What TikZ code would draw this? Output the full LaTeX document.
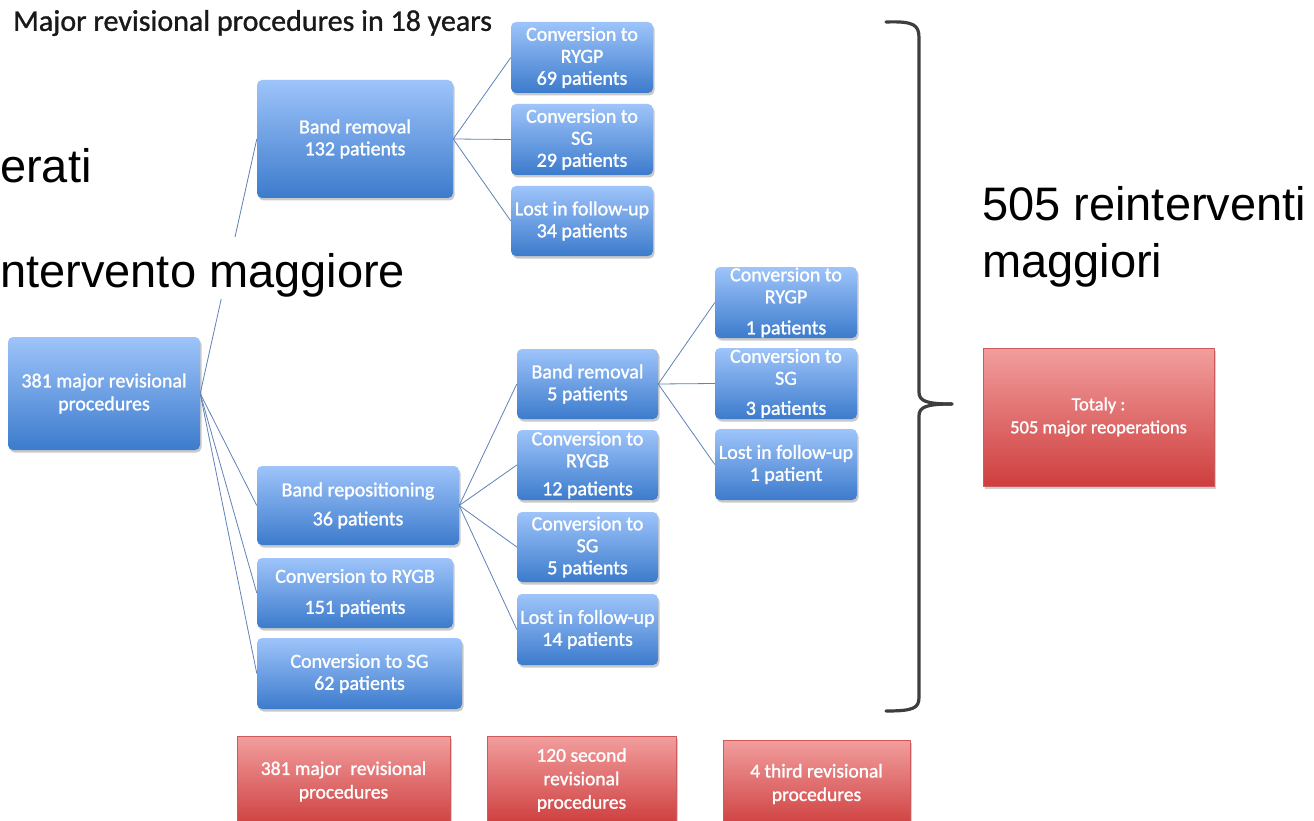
\documentclass[tikz,border=0pt]{standalone}
\usepackage{fontspec}
\setmainfont{Carlito}
\newfontfamily\boxfont[FakeBold=1.3]{Carlito}
\newfontfamily\titlefont[FakeBold=1.0]{Carlito}
\newfontfamily\arialfont{Liberation Sans}
\usetikzlibrary{shadows}
\definecolor{bluetop}{RGB}{158,196,250}
\definecolor{bluebot}{RGB}{60,123,204}
\definecolor{redtop}{RGB}{242,158,158}
\definecolor{redbot}{RGB}{206,62,62}
\definecolor{redline}{RGB}{205,90,90}
\definecolor{linkcol}{RGB}{96,130,184}
\definecolor{bracecol}{RGB}{62,62,62}
\begin{document}
\begin{tikzpicture}[x=1pt,y=-1pt,
 bluebox/.style={rounded corners=5pt, top color=bluetop, bottom color=bluebot, draw=none, text=white, align=center,
   font=\boxfont\fontsize{20}{22}\selectfont, inner sep=0pt,
   drop shadow={shadow xshift=1.5pt, shadow yshift=-2.5pt, opacity=0.35, fill=black!60}},
 redbox/.style={top color=redtop, bottom color=redbot, draw=redline, line width=0.6pt, text=white, align=center,
   font=\boxfont\fontsize{19.5}{23.5}\selectfont, inner sep=0pt,
   drop shadow={shadow xshift=1.5pt, shadow yshift=-2.5pt, opacity=0.3, fill=black!60}},
 link/.style={draw=linkcol, line width=0.8pt},
 bigtext/.style={font=\arialfont\fontsize{47}{57}\selectfont, inner sep=0pt},
 bracestyle/.style={draw=bracecol, line width=3.2pt, line cap=round, line join=round}
]
\useasboundingbox (0,0) rectangle (1314,821);
\fill[white] (0,0) rectangle (1314,821);

% title
\node[anchor=west, font=\titlefont\fontsize{30}{33}\selectfont, inner sep=0pt, text=black!90] (title) at (13,23) {Major revisional procedures in 18 years};

% blue boxes
\node[bluebox, minimum width=192pt, minimum height=113pt] (root) at (104,393.5) {381 major revisional\\[1pt]procedures};
\node[bluebox, minimum width=196pt, minimum height=118pt] (br132) at (355,139) {Band removal\\132 patients};
\node[bluebox, minimum width=142pt, minimum height=71pt] (rygp69) at (582,57.5) {Conversion to\\RYGP\\69 patients};
\node[bluebox, minimum width=142pt, minimum height=71pt] (sg29) at (582,139.5) {Conversion to\\SG\\29 patients};
\node[bluebox, minimum width=142pt, minimum height=70pt] (lost34) at (582,221) {Lost in follow-up\\34 patients};

\node[bluebox, minimum width=202pt, minimum height=79pt] (brep36) at (358,505.5) {Band repositioning\\[7pt]36 patients};
\node[bluebox, minimum width=196pt, minimum height=70pt] (rygb151) at (355,593) {Conversion to RYGB\\[9pt]151 patients};
\node[bluebox, minimum width=205pt, minimum height=71pt] (sg62) at (359.5,673.5) {Conversion to SG\\62 patients};

\node[bluebox, minimum width=141pt, minimum height=70pt] (br5) at (587.5,384) {Band removal\\5 patients};
\node[bluebox, minimum width=141pt, minimum height=70pt] (rygb12) at (587.5,465) {Conversion to\\RYGB\\[6pt]12 patients};
\node[bluebox, minimum width=141pt, minimum height=70pt] (sg5) at (587.5,547) {Conversion to\\SG\\5 patients};
\node[bluebox, minimum width=141pt, minimum height=71pt] (lost14) at (587.5,629.5) {Lost in follow-up\\14 patients};

\node[bluebox, minimum width=142pt, minimum height=71pt] (rygp1) at (786,302.5) {Conversion to\\RYGP\\[9pt]1 patients};
\node[bluebox, minimum width=142pt, minimum height=71pt] (sg3) at (786,383.5) {Conversion to\\SG\\[8pt]3 patients};
\node[bluebox, minimum width=142pt, minimum height=71pt] (lost1) at (786,464.5) {Lost in follow-up\\1 patient};

% red boxes
\node[redbox, minimum width=231pt, minimum height=138pt, font=\boxfont\fontsize{18.5}{23}\selectfont] (total) at (1098.5,417) {Totaly :\\505 major reoperations};
\node[redbox, minimum width=213pt, minimum height=91pt] (red381) at (343.5,781.5) {381 major\ \ revisional\\procedures};
\node[redbox, minimum width=189pt, minimum height=88pt] (red120) at (581.5,780) {120 second\\revisional\\procedures};
\node[redbox, minimum width=187pt, minimum height=88pt] (red4) at (816.5,784) {4 third revisional\\procedures};

% connectors
\draw[link] (root.east) -- (br132.west);
\draw[link] (root.east) -- (brep36.west);
\draw[link] (root.east) -- (rygb151.west);
\draw[link] (root.east) -- (sg62.west);
\draw[link] (br132.east) -- (rygp69.west);
\draw[link] (br132.east) -- (sg29.west);
\draw[link] (br132.east) -- (lost34.west);
\draw[link] (brep36.east) -- (br5.west);
\draw[link] (brep36.east) -- (rygb12.west);
\draw[link] (brep36.east) -- (sg5.west);
\draw[link] (brep36.east) -- (lost14.west);
\draw[link] (br5.east) -- (rygp1.west);
\draw[link] (br5.east) -- (sg3.west);
\draw[link] (br5.east) -- (lost1.west);

% big overlay text
\node[bigtext, anchor=base west] (erati) at (0,183) {erati};
\node[bigtext, anchor=base west, fill=white, text height=50pt, text depth=12pt] (magg) at (0,287) {ntervento maggiore};
\node[bigtext, anchor=base west] (reint) at (982,220) {505 reinterventi};
\node[bigtext, anchor=base west] (maggiori) at (982,277) {maggiori};

% brace
\coordinate (btop) at (886,22);
\coordinate (btip) at (952,404);
\coordinate (bbot) at (886,711);
\draw[bracestyle] (btop) .. controls (914,21) and (919,25) .. (919,38) -- (919,392) .. controls (919,401) and (926,404) .. (btip);
\draw[bracestyle] (btip) .. controls (926,404) and (919,407) .. (919,416) -- (919,697) .. controls (919,708) and (914,711) .. (bbot);
\end{tikzpicture}
\end{document}
